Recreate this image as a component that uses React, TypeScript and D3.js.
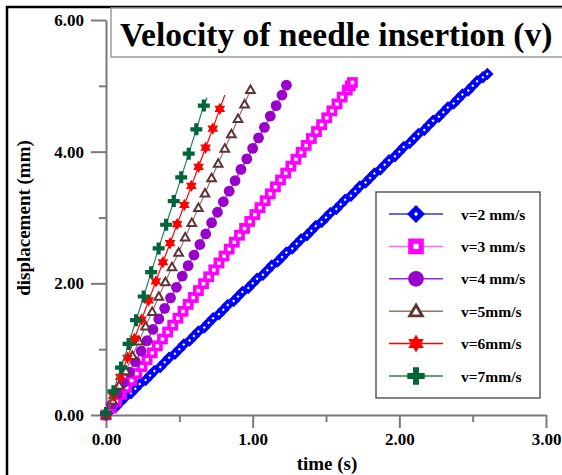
import React, { useEffect, useRef } from "react";
import * as d3 from "d3";

// time (s) and displacement (mm) of each marker
const blueT = [0, 0.03, 0.07, 0.1, 0.13, 0.17, 0.2, 0.23, 0.27, 0.3, 0.33, 0.37, 0.4, 0.43, 0.47, 0.5, 0.53, 0.57, 0.6, 0.63, 0.67, 0.7, 0.73, 0.77, 0.8, 0.83, 0.87, 0.9, 0.93, 0.97, 1, 1.03, 1.07, 1.1, 1.13, 1.17, 1.2, 1.23, 1.27, 1.3, 1.33, 1.37, 1.4, 1.43, 1.47, 1.5, 1.53, 1.57, 1.6, 1.63, 1.67, 1.7, 1.73, 1.77, 1.8, 1.83, 1.87, 1.9, 1.93, 1.97, 2, 2.03, 2.07, 2.1, 2.13, 2.17, 2.2, 2.23, 2.27, 2.3, 2.33, 2.37, 2.4, 2.43, 2.47, 2.5, 2.53, 2.57, 2.6];
const blueD = [0, 0.07, 0.13, 0.2, 0.27, 0.33, 0.4, 0.47, 0.53, 0.6, 0.67, 0.73, 0.8, 0.87, 0.93, 1, 1.07, 1.13, 1.2, 1.27, 1.33, 1.4, 1.47, 1.53, 1.6, 1.67, 1.73, 1.8, 1.87, 1.93, 2, 2.07, 2.13, 2.2, 2.27, 2.33, 2.4, 2.47, 2.53, 2.6, 2.67, 2.73, 2.8, 2.87, 2.93, 3, 3.07, 3.13, 3.2, 3.27, 3.33, 3.4, 3.47, 3.53, 3.6, 3.67, 3.73, 3.8, 3.87, 3.93, 4, 4.07, 4.13, 4.2, 4.27, 4.33, 4.4, 4.47, 4.53, 4.6, 4.67, 4.73, 4.8, 4.87, 4.93, 5, 5.07, 5.13, 5.18];

const magentaT = [0, 0.035, 0.07, 0.105, 0.14, 0.175, 0.21, 0.245, 0.28, 0.315, 0.35, 0.385, 0.42, 0.455, 0.49, 0.525, 0.56, 0.595, 0.63, 0.665, 0.7, 0.735, 0.77, 0.805, 0.84, 0.875, 0.91, 0.945, 0.98, 1.015, 1.05, 1.085, 1.12, 1.155, 1.19, 1.225, 1.26, 1.295, 1.33, 1.365, 1.4, 1.435, 1.47, 1.505, 1.54, 1.575, 1.61, 1.645, 1.665, 1.68];
const magentaD = [0, 0.105, 0.21, 0.315, 0.42, 0.525, 0.63, 0.735, 0.84, 0.945, 1.05, 1.155, 1.26, 1.365, 1.47, 1.575, 1.68, 1.785, 1.89, 1.995, 2.1, 2.205, 2.31, 2.415, 2.52, 2.625, 2.73, 2.835, 2.94, 3.045, 3.15, 3.255, 3.36, 3.465, 3.57, 3.675, 3.78, 3.885, 3.99, 4.095, 4.2, 4.305, 4.41, 4.515, 4.62, 4.725, 4.83, 4.935, 5.0, 5.05];

const purpleT = [0, 0.04, 0.08, 0.12, 0.16, 0.2, 0.24, 0.28, 0.32, 0.36, 0.4, 0.44, 0.48, 0.52, 0.56, 0.6, 0.64, 0.68, 0.72, 0.76, 0.8, 0.84, 0.88, 0.92, 0.96, 1, 1.04, 1.08, 1.12, 1.16, 1.2, 1.23];
const purpleD = [0, 0.16, 0.32, 0.49, 0.65, 0.81, 0.97, 1.13, 1.3, 1.46, 1.62, 1.78, 1.94, 2.11, 2.27, 2.43, 2.59, 2.75, 2.92, 3.08, 3.24, 3.4, 3.56, 3.73, 3.89, 4.05, 4.21, 4.37, 4.54, 4.7, 4.86, 5.01];

const brownT = [0, 0.045, 0.09, 0.135, 0.18, 0.225, 0.27, 0.315, 0.36, 0.405, 0.45, 0.495, 0.54, 0.585, 0.63, 0.675, 0.72, 0.765, 0.81, 0.855, 0.9, 0.945, 0.985];
const brownD = [0, 0.22, 0.45, 0.67, 0.9, 1.12, 1.35, 1.57, 1.8, 2.02, 2.25, 2.47, 2.7, 2.92, 3.15, 3.37, 3.6, 3.82, 4.05, 4.27, 4.5, 4.72, 4.94];

const redT = [0, 0.049, 0.097, 0.146, 0.194, 0.243, 0.291, 0.34, 0.388, 0.437, 0.485, 0.534, 0.582, 0.631, 0.679, 0.728, 0.776];
const redD = [0, 0.29, 0.58, 0.87, 1.16, 1.45, 1.74, 2.03, 2.32, 2.61, 2.9, 3.19, 3.48, 3.77, 4.06, 4.35, 4.65];
const redLineEnd = [0.81, 4.86];

const greenT = [0, 0.051, 0.103, 0.154, 0.205, 0.257, 0.308, 0.359, 0.41, 0.462, 0.513, 0.564, 0.616, 0.667];
const greenD = [0.03, 0.36, 0.72, 1.08, 1.44, 1.8, 2.17, 2.53, 2.89, 3.25, 3.61, 3.97, 4.34, 4.7];
const greenLineEnd = [0.69, 4.82];

const seriesNames = ["v=2 mm/s", "v=3 mm/s", "v=4 mm/s", "v=5mm/s", "v=6mm/s", "v=7mm/s"];

const xTicks = [0, 1, 2, 3];
const xMinorTicks = [0.5, 1.5, 2.5];
const yTicks = [0, 2, 4, 6];
const yMinorTicks = [1, 3, 5];

const titleText = "Velocity of needle insertion (v)";
const xLabel = "time (s)";
const yLabel = "displacement (mm)";

const FONT = "'Liberation Serif', 'Times New Roman', serif";

type Kind = "diamond" | "square" | "circle" | "triangle" | "star" | "cross";

function poly(pts: [number, number][]) {
  const p = d3.path();
  pts.forEach((q, i) => (i === 0 ? p.moveTo(q[0], q[1]) : p.lineTo(q[0], q[1])));
  p.closePath();
  return p.toString();
}

// k scales the marker: 1 in the plot, bigger in the legend
function drawMarker(g: any, kind: Kind, color: string, k: number) {
  if (kind === "diamond") {
    const s = 6.2 * k, w = 1.5 * k;
    g.append("path").attr("d", poly([[0, -s], [s, 0], [0, s], [-s, 0]])).attr("fill", color);
    g.append("path").attr("d", poly([[0, -w], [w, 0], [0, w], [-w, 0]])).attr("fill", "#fff");
  } else if (kind === "square") {
    const s = 5.4 * k, w = 1.8 * k;
    g.append("rect").attr("x", -s).attr("y", -s).attr("width", 2 * s).attr("height", 2 * s).attr("fill", color);
    g.append("rect").attr("x", -w).attr("y", -w).attr("width", 2 * w).attr("height", 2 * w).attr("fill", "#fff");
  } else if (kind === "circle") {
    g.append("circle").attr("r", 5.4 * k).attr("fill", color);
  } else if (kind === "triangle") {
    const r = 5 * k;
    const pts: [number, number][] = [0, 1, 2].map((i) => {
      const a = -Math.PI / 2 + (i * 2 * Math.PI) / 3;
      return [r * Math.cos(a), r * Math.sin(a) + r * 0.15];
    });
    g.append("path").attr("d", poly(pts)).attr("fill", "#fff").attr("stroke", color).attr("stroke-width", 2 * k);
  } else if (kind === "star") {
    const R = 6.2 * k, r = R / Math.sqrt(3);
    const pts: [number, number][] = d3.range(12).map((i) => {
      const a = -Math.PI / 2 + (i * Math.PI) / 6;
      const rr = i % 2 === 0 ? R : r;
      return [rr * Math.cos(a), rr * Math.sin(a)];
    });
    g.append("path").attr("d", poly(pts)).attr("fill", color);
  } else {
    const L = 6 * k, w = 2.1 * k;
    g.append("path")
      .attr("d", poly([[-w, -L], [w, -L], [w, -w], [L, -w], [L, w], [w, w], [w, L], [-w, L], [-w, w], [-L, w], [-L, -w], [-w, -w]]))
      .attr("fill", color);
  }
}

export default function App() {
  const ref = useRef<SVGSVGElement>(null);

  useEffect(() => {
    const svg = d3.select(ref.current);
    svg.selectAll("*").remove();

    const series = [
      { name: seriesNames[0], t: blueT, d: blueD, tail: null as number[] | null, color: "#0000ff", line: "#3030ff", kind: "diamond" as Kind },
      { name: seriesNames[1], t: magentaT, d: magentaD, tail: null, color: "#ff00ff", line: "#ff66ff", kind: "square" as Kind },
      { name: seriesNames[2], t: purpleT, d: purpleD, tail: null, color: "#9900cc", line: "#a020d0", kind: "circle" as Kind },
      { name: seriesNames[3], t: brownT, d: brownD, tail: null, color: "#5e3434", line: "#9a7272", kind: "triangle" as Kind },
      { name: seriesNames[4], t: redT, d: redD, tail: redLineEnd, color: "#ff0000", line: "#ff0000", kind: "star" as Kind },
      { name: seriesNames[5], t: greenT, d: greenD, tail: greenLineEnd, color: "#00663a", line: "#2f8057", kind: "cross" as Kind },
    ];

    const x = d3.scaleLinear().domain([0, 3]).range([106, 546]);
    const y = d3.scaleLinear().domain([0, 6]).range([415, 20]);

    // outer frame
    svg.append("path").attr("d", "M7,480V7H570").attr("fill", "none").attr("stroke", "#000").attr("stroke-width", 2.5);

    // title box
    svg.append("rect").attr("x", 111).attr("y", 8).attr("width", 470).attr("height", 49)
      .attr("fill", "#fff").attr("stroke", "#9a9a9a").attr("stroke-width", 1.5);
    svg.append("text").attr("x", 120).attr("y", 46).text(titleText)
      .style("font-family", FONT).style("font-weight", "bold").style("font-size", "33.5px").style("fill", "#000");

    const styleAxis = (g: any) => {
      g.selectAll("line").style("stroke", "#7a7a7a").style("stroke-width", 2);
      g.selectAll("path").style("stroke", "#7a7a7a").style("stroke-width", 2);
      g.selectAll("text").style("fill", "#000").style("font-family", FONT).style("font-weight", "bold").style("font-size", "17px");
    };

    const axisX = svg.append("g").attr("transform", `translate(0,${y(0)})`)
      .call(d3.axisBottom(x).tickValues(xTicks).tickFormat(d3.format(".2f")).tickSize(13).tickSizeOuter(0).tickPadding(5));
    styleAxis(axisX);
    const axisXMinor = svg.append("g").attr("transform", `translate(0,${y(0)})`)
      .call(d3.axisBottom(x).tickValues(xMinorTicks).tickFormat(() => "").tickSize(7).tickSizeOuter(0));
    axisXMinor.select(".domain").remove();
    styleAxis(axisXMinor);

    const axisY = svg.append("g").attr("transform", `translate(${x(0)},0)`)
      .call(d3.axisLeft(y).tickValues(yTicks).tickFormat(d3.format(".2f")).tickSize(15).tickSizeOuter(0).tickPadding(7));
    styleAxis(axisY);
    const axisYMinor = svg.append("g").attr("transform", `translate(${x(0)},0)`)
      .call(d3.axisLeft(y).tickValues(yMinorTicks).tickFormat(() => "").tickSize(7).tickSizeOuter(0));
    axisYMinor.select(".domain").remove();
    styleAxis(axisYMinor);

    // axis titles
    svg.append("text").attr("x", 327).attr("y", 470).attr("text-anchor", "middle").text(xLabel)
      .style("font-family", FONT).style("font-weight", "bold").style("font-size", "19px");
    svg.append("text").attr("transform", "translate(30,218) rotate(-90)").attr("text-anchor", "middle").text(yLabel)
      .style("font-family", FONT).style("font-weight", "bold").style("font-size", "19px");

    // series: thin line, markers on top
    const line = d3.line<number[]>().x((p) => x(p[0])).y((p) => y(p[1]));
    series.forEach((s) => {
      const pts = s.t.map((t, i) => [t, s.d[i]]);
      const linePts = s.tail ? [[0, 0], ...pts, s.tail] : pts;
      svg.append("path").attr("d", line(linePts)).attr("fill", "none").attr("stroke", s.line).attr("stroke-width", 1.2);
      const mg = svg.append("g");
      pts.forEach((p) => {
        const g = mg.append("g").attr("transform", `translate(${x(p[0])},${y(p[1])})`);
        drawMarker(g, s.kind, s.color, 1);
      });
    });

    // legend
    const lg = svg.append("g");
    lg.append("rect").attr("x", 376).attr("y", 192).attr("width", 164).attr("height", 206)
      .attr("fill", "#fff").attr("stroke", "#333").attr("stroke-width", 1.2);
    series.forEach((s, i) => {
      const cy = 214 + i * 32.4;
      lg.append("line").attr("x1", 389).attr("x2", 443).attr("y1", cy).attr("y2", cy).attr("stroke", s.line).attr("stroke-width", 1.5);
      const g = lg.append("g").attr("transform", `translate(416,${cy})`);
      drawMarker(g, s.kind, s.color, 1.45);
      lg.append("text").attr("x", 461).attr("y", cy + 5.5).text(s.name)
        .style("font-family", FONT).style("font-weight", "bold").style("font-size", "15.5px");
    });
  }, []);

  return (
    <svg ref={ref} width={562} height={475} style={{ position: "absolute", left: 0, top: 0, background: "#fff" }} />
  );
}
